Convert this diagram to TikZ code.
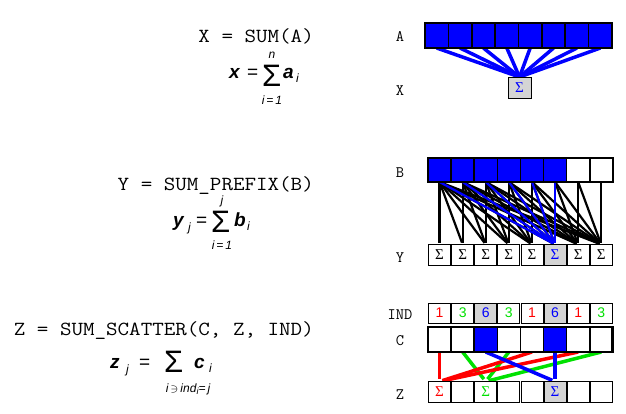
\documentclass[tikz,border=0pt]{standalone}
\usepackage{fontspec}
\usepackage{graphicx}
\usetikzlibrary{backgrounds}
\newfontfamily\hv{Liberation Sans}
\newfontfamily\ser{Liberation Serif}
\definecolor{bl}{RGB}{0,0,255}
\definecolor{rd}{RGB}{255,0,0}
\definecolor{gn}{RGB}{0,225,0}
\definecolor{gy}{RGB}{212,212,212}
\newcommand{\wide}[1]{\scalebox{1.12}[1]{#1}}
\begin{document}
\begin{tikzpicture}[x=1pt,y=-1pt,
  thickcell/.style={draw, line width=1.6pt, inner sep=0pt, outer sep=0pt, minimum height=24pt},
  thincell/.style={draw, line width=0.8pt, inner sep=0pt, outer sep=0pt, minimum width=22pt, minimum height=21pt, font=\fontsize{15}{15}\selectfont\ser},
  lab/.style={anchor=base, inner sep=0pt, font=\fontsize{16}{16}\selectfont\ttfamily},
  title/.style={anchor=base east, inner sep=0pt, font=\fontsize{20}{20}\selectfont\ttfamily},
  fmain/.style={anchor=base west, inner sep=0pt, font=\fontsize{19}{19}\selectfont\hv\bfseries\itshape},
  feq/.style={anchor=base west, inner sep=0pt, font=\fontsize{19}{19}\selectfont\hv},
  fsig/.style={anchor=base west, inner sep=0pt, font=\fontsize{31}{31}\selectfont\hv},
  fsub/.style={inner sep=0pt, font=\fontsize{12}{12}\selectfont\hv\itshape},
  aline/.style={bl, line width=3.5pt},
  pline/.style={line width=2.2pt, shorten >=2pt},
  sline/.style={line width=3.5pt, shorten >=3pt}
]
\useasboundingbox (0,0) rectangle (626,413);

% ---------- left titles ----------
\node[title] (t1) at (314,42) {\wide{X = SUM(A)}};
\node[title] (t2) at (314,190) {\wide{Y = SUM\char95PREFIX(B)}};
\node[title] (t3) at (314,335) {\wide{Z = SUM\char95SCATTER(C, Z, IND)}};

% formula 1
\node[fmain] (f1x) at (229,78) {x};
\node[feq] (f1e) at (247,78) {=};
\node[fsig] (f1s) at (262,86) {Σ};
\node[fsub, anchor=base] (f1n) at (272,58) {n};
\node[fsub, anchor=base] (f1l) at (272,104) {i\,=\,1};
\node[fmain] (f1a) at (283,78) {a};
\node[fsub, anchor=base west] (f1i) at (296,82) {i};

% formula 2
\node[fmain] (f2y) at (173,226) {y};
\node[fsub, anchor=base west] (f2j) at (188,231) {j};
\node[feq] (f2e) at (196,226) {=};
\node[fsig] (f2s) at (211,232) {Σ};
\node[fsub, anchor=base] (f2t) at (222,204) {j};
\node[fsub, anchor=base] (f2l) at (222,249) {i\,=\,1};
\node[fmain] (f2b) at (234,226) {b};
\node[fsub, anchor=base west] (f2i) at (247,230) {i};

% formula 3
\node[fmain] (f3z) at (110,368) {z};
\node[fsub, anchor=base west] (f3j) at (126,373) {j};
\node[feq] (f3e) at (139,368) {=};
\node[fsig] (f3s) at (164,372) {Σ};
\node[fmain] (f3c) at (194,368) {c};
\node[fsub, anchor=base west] (f3i) at (209,372) {i};
\node[fsub, anchor=base] (f3l) at (188,392) {i\,$\ni$\,ind\raisebox{-2pt}{\fontsize{9}{9}\selectfont i}=\,j};

% ---------- right labels ----------
\node[lab] (lA) at (400,41) {A};
\node[lab] (lX) at (400,95) {X};
\node[lab] (lB) at (400,177) {B};
\node[lab] (lY) at (400,262) {Y};
\node[lab] (lI) at (400,319) {IND};
\node[lab] (lC) at (400,345) {C};
\node[lab] (lZ) at (400,399) {Z};

% ---------- A and X ----------
\foreach \i in {1,...,8}
  \node[thickcell, fill=bl, minimum width=23.375pt, minimum height=25pt] (a\i) at ({425+23.375*(\i-0.5)},35.5) {};
\draw[line width=2.6pt] (a1.north west) rectangle (a8.south east);
\node[thincell, fill=gy, text=bl, minimum width=23pt, minimum height=21pt] (xs) at (519.5,87.5) {Σ};
\begin{pgfonlayer}{background}
\foreach \i in {1,...,8}
  \draw[aline] (a\i.south) -- (xs.north);
\end{pgfonlayer}

% ---------- B and Y ----------
\foreach \i/\f in {1/bl,2/bl,3/bl,4/bl,5/bl,6/bl,7/white,8/white}
  \node[thickcell, fill=\f, minimum width=23.1pt] (b\i) at ({428+23.1*(\i-0.5)},170) {};
\draw[line width=2pt] (b1.north west) rectangle (b8.south east);
\foreach \i/\f/\t in {1/white/black,2/white/black,3/white/black,4/white/black,5/white/black,6/gy/bl,7/white/black,8/white/black}
  \node[thincell, fill=\f, text=\t] (y\i) at ({428+23.1*(\i-0.5)},255) {Σ};
\begin{pgfonlayer}{background}
\foreach \i in {1,...,8}{
  \foreach \j in {\i,...,8}{
    \draw[pline] (b\i.south) -- (y\j.north);
  }
}
\foreach \i in {1,...,6}
  \draw[pline, bl] (b\i.south) -- (y6.north);
\end{pgfonlayer}

% ---------- IND, C, Z ----------
\foreach \i/\v/\c/\f in {1/1/rd/white,2/3/gn/white,3/6/bl/gy,4/3/gn/white,5/1/rd/white,6/6/bl/gy,7/1/rd/white,8/3/gn/white}
  \node[thincell, minimum height=20pt, fill=\f, text=\c, font=\fontsize{14}{14}\selectfont\hv] (ind\i) at ({428+23.1*(\i-0.5)},313) {\v};
\foreach \i/\f in {1/white,2/white,3/bl,4/white,5/white,6/bl,7/white,8/white}
  \node[thickcell, fill=\f, minimum width=23.1pt, minimum height=25pt] (c\i) at ({428+23.1*(\i-0.5)},339.5) {};
\draw[line width=2.8pt] (c1.north west) rectangle (c8.south east);
\foreach \i/\f/\t/\s in {1/white/rd/Σ,2/white/black/,3/white/gn/Σ,4/white/black/,5/white/black/,6/gy/bl/Σ,7/white/black/,8/white/black/}
  \node[thincell, fill=\f, text=\t] (z\i) at ({428+23.1*(\i-0.5)},392) {\s};
\begin{pgfonlayer}{background}
\foreach \i in {2,4,8}
  \draw[sline, gn] (c\i.south) -- (z3.north);
\foreach \i in {1,5,7}
  \draw[sline, rd] (c\i.south) -- (z1.north);
\foreach \i in {3,6}
  \draw[sline, bl] (c\i.south) -- (z6.north);
\end{pgfonlayer}
\end{tikzpicture}
\end{document}
